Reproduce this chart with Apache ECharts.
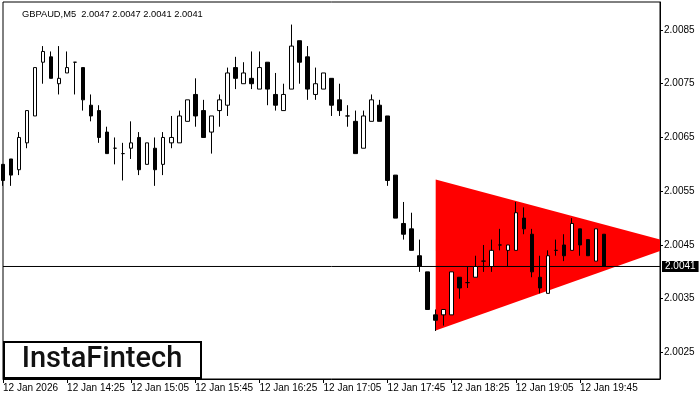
<!DOCTYPE html>
<html><head><meta charset="utf-8">
<script src="https://cdn.jsdelivr.net/npm/echarts@6/dist/echarts.min.js"></script>
<style>html,body{margin:0;padding:0;background:#fff}#c{width:700px;height:400px}</style>
</head><body><div id="c"></div>
<script>
const times = ['13:45','13:50','13:55',
 '14:00','14:05','14:10','14:15','14:20','14:25','14:30','14:35','14:40','14:45','14:50','14:55',
 '15:00','15:05','15:10','15:15','15:20','15:25','15:30','15:35','15:40','15:45','15:50','15:55',
 '16:00','16:05','16:10','16:15','16:20','16:25','16:30','16:35','16:40','16:45','16:50','16:55',
 '17:00','17:05','17:10','17:15','17:20','17:25','17:30','17:35','17:40','17:45','17:50','17:55',
 '18:00','18:05','18:10','18:15','18:20','18:25','18:30','18:35','18:40','18:45','18:50','18:55',
 '19:00','19:05','19:10','19:15','19:20','19:25','19:30','19:35','19:40','19:45','19:50','19:55',
 '20:00'];
const opens = [2.0060,2.0061,2.0059,2.0064,2.0069,2.0079,2.0080,2.0075,2.0077,2.0079,
 2.0078,2.0071,2.0070,2.0066,2.0063,2.0062,2.0063,2.0065,2.0060,2.0063,
 2.0060,2.0064,2.0064,2.0068,2.0073,2.0070,2.0066,2.0070,2.0071,2.0078,
 2.0075,2.0076,2.0074,2.0079,2.0073,2.0070,2.0074,2.0083,2.0080,2.0073,
 2.0074,2.0076,2.0072,2.0069,2.0068,2.0063,2.0068,2.0071,2.0069,2.0058,
 2.0049,2.0048,2.0043,2.0040,2.0032,2.0032,2.0032,2.0039,2.0038,2.0039,
 2.0042,2.0041,2.0045,2.0044,2.0044,2.0050,2.0047,2.0039,2.0036,2.0044,
 2.0045,2.0044,2.0048,2.0046,2.0042,2.0047];
const closes = [2.0057,2.0058,2.0065,2.0070,2.0078,2.0081,2.0076,2.0076,2.0078,2.0079,
 2.0072,2.0069,2.0065,2.0062,2.0063,2.0062,2.0064,2.0059,2.0064,2.0059,
 2.0065,2.0065,2.0069,2.0072,2.0069,2.0065,2.0069,2.0072,2.0077,2.0076,
 2.0077,2.0075,2.0078,2.0074,2.0071,2.0073,2.0082,2.0079,2.0074,2.0075,
 2.0077,2.0071,2.0070,2.0069,2.0062,2.0069,2.0072,2.0068,2.0057,2.0050,
 2.0047,2.0044,2.0041,2.0033,2.0031,2.0033,2.0040,2.0037,2.0038,2.0041,
 2.0042,2.0044,2.0045,2.0045,2.0051,2.0048,2.0040,2.0037,2.0043,2.0044,
 2.0043,2.0049,2.0045,2.0043,2.0048,2.0041];
const lows = [2.0056,2.0056,2.0058,2.0063,2.0069,2.0075,2.0076,2.0073,2.0077,2.0073,
 2.0070,2.0068,2.0064,2.0062,2.0060,2.0057,2.0061,2.0058,2.0060,2.0056,
 2.0058,2.0063,2.0064,2.0068,2.0067,2.0065,2.0062,2.0067,2.0069,2.0074,
 2.0075,2.0074,2.0074,2.0071,2.0070,2.0070,2.0074,2.0075,2.0072,2.0072,
 2.0074,2.0069,2.0069,2.0067,2.0062,2.0063,2.0068,2.0068,2.0056,2.0050,
 2.0046,2.0044,2.0040,2.0033,2.0029,2.0030,2.0032,2.0035,2.0037,2.0039,
 2.0040,2.0040,2.0044,2.0041,2.0044,2.0047,2.0039,2.0036,2.0036,2.0043,
 2.0042,2.0044,2.0043,2.0043,2.0042,2.0041];
const highs = [2.0060,2.0061,2.0066,2.0070,2.0078,2.0082,2.0081,2.0082,2.0081,2.0079,
 2.0078,2.0073,2.0071,2.0067,2.0065,2.0064,2.0068,2.0066,2.0064,2.0065,
 2.0066,2.0069,2.0070,2.0072,2.0076,2.0072,2.0069,2.0073,2.0078,2.0080,
 2.0079,2.0081,2.0081,2.0079,2.0077,2.0075,2.0086,2.0083,2.0082,2.0078,
 2.0077,2.0076,2.0075,2.0071,2.0070,2.0070,2.0073,2.0072,2.0069,2.0058,
 2.0053,2.0051,2.0046,2.0040,2.0033,2.0033,2.0040,2.0039,2.0041,2.0043,
 2.0045,2.0046,2.0048,2.0045,2.0053,2.0052,2.0048,2.0043,2.0044,2.0046,
 2.0047,2.0050,2.0048,2.0046,2.0048,2.0047];
const tickLabels = ['12 Jan 2026','12 Jan 14:25','12 Jan 15:05','12 Jan 15:45','12 Jan 16:25',
 '12 Jan 17:05','12 Jan 17:45','12 Jan 18:25','12 Jan 19:05','12 Jan 19:45'];
const priceTicks = [2.0025,2.0035,2.0045,2.0055,2.0065,2.0075,2.0085];
const lastPrice = 2.0041;
const patternX = [54, 82, 82, 54];
const patternY = [2.00572, 2.00460, 2.00439, 2.00291];
const emptySlots = 7;
const titleText = 'GBPAUD,M5  2.0047 2.0047 2.0041 2.0041';

const cats = times.concat(new Array(emptySlots).fill(''));
const ohlc = opens.map((o, i) => [o, closes[i], lows[i], highs[i]]);
const priceLine = [[0, lastPrice], [cats.length - 1, lastPrice]];
const tickEvery = 8;
const showTick = (idx) => idx % tickEvery === 0 && idx / tickEvery < tickLabels.length;

const FONT = 'Liberation Sans';
const chart = echarts.init(document.getElementById('c'), null, {renderer: 'canvas'});
chart.setOption({
  animation: false,
  backgroundColor: '#fff',
  title: {text: titleText, left: 17, top: 5,
    textStyle: {fontSize: 9.3, fontWeight: 'normal', color: '#000', fontFamily: FONT}},
  grid: {left: 2, top: 2, width: 658, height: 377, show: true, borderColor: '#000', borderWidth: 1, backgroundColor: 'transparent'},
  xAxis: {
    type: 'category', data: cats, boundaryGap: false,
    axisLine: {lineStyle: {color: '#000', width: 1}},
    axisTick: {interval: (i) => showTick(i), length: 4, lineStyle: {color: '#000'}},
    axisLabel: {interval: (i) => showTick(i), align: 'left', margin: 4, fontSize: 10, color: '#000', fontFamily: FONT,
      formatter: (v, i) => tickLabels[i / tickEvery] || ''},
    splitLine: {show: false}
  },
  yAxis: {
    type: 'value', position: 'right', min: 2.002007, max: 2.00902, scale: true,
    axisLine: {show: true, lineStyle: {color: '#000', width: 1}},
    axisTick: {show: true, length: 3, customValues: priceTicks, lineStyle: {color: '#000'}},
    axisLabel: {customValues: priceTicks, margin: 4, fontSize: 10, color: '#000', fontFamily: FONT,
      formatter: (v) => v.toFixed(4)},
    splitLine: {show: false}
  },
  series: [
    {
      type: 'custom', silent: true, z: 1,
      data: [[patternX[0], patternY[0]]],
      renderItem: (params, api) => {
        const pts = patternX.map((x, i) => api.coord([x, patternY[i]]));
        return {type: 'polygon', shape: {points: pts}, style: {fill: '#ff0000', stroke: null}};
      }
    },
    {
      type: 'line', z: 2, silent: true, data: priceLine, symbol: 'none',
      lineStyle: {color: '#000', width: 1},
      endLabel: {show: true, formatter: () => lastPrice.toFixed(4), distance: 2, backgroundColor: '#000', color: '#fff',
        fontSize: 10, fontFamily: FONT, padding: [1, 3, 0, 3]}
    },
    {
      type: 'candlestick', z: 3, data: ohlc, barWidth: 4,
      itemStyle: {color: '#fff', color0: '#000', borderColor: '#000', borderColor0: '#000', borderWidth: 1}
    }
  ],
  graphic: [
    {type: 'rect', left: 3, top: 341, shape: {width: 197, height: 36}, z: 100,
      style: {fill: '#fff', stroke: '#000', lineWidth: 2}},
    {type: 'text', z: 101, x: 102, y: 360,
      style: {text: 'InstaFintech', fontSize: 29, fontFamily: 'Roboto', fontWeight: 500, fill: '#111',
        textAlign: 'center', textVerticalAlign: 'middle'}}
  ]
});
</script></body></html>
